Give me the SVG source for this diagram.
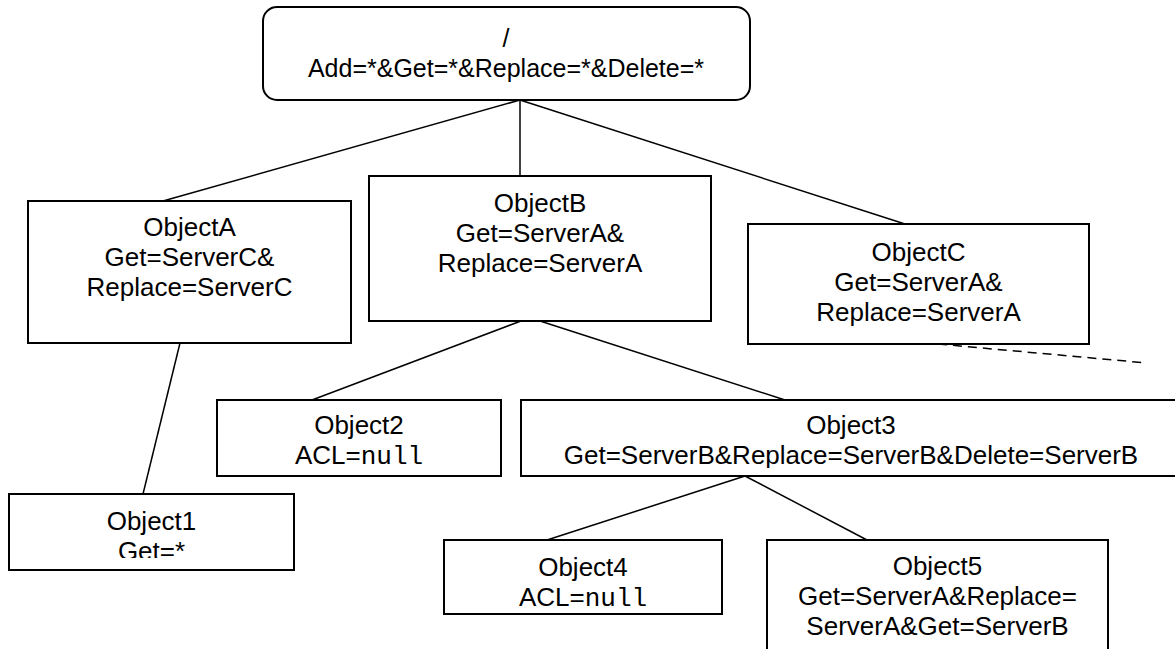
<svg xmlns="http://www.w3.org/2000/svg" width="1175" height="649" viewBox="0 0 1175 649">
<style>
.box{fill:#fff;stroke:#000;stroke-width:2}
.t{font-family:"Liberation Sans",Arial,sans-serif;font-size:26px;fill:#000;text-anchor:middle}
.r{font-size:25px}
.m{font-family:"Liberation Mono","Courier New",monospace}
.c{stroke:#000;stroke-width:1.5;fill:none}
.d{stroke-dasharray:9 6}
</style>
<defs>
<clipPath id="clip1"><rect x="9" y="494" width="285" height="64"/></clipPath>
<clipPath id="clip3"><rect x="521" y="400" width="660" height="68"/></clipPath>
</defs>
<g id="connectors">
<line class="c" x1="520" y1="100" x2="163" y2="201"/>
<line class="c" x1="520" y1="100" x2="520" y2="176"/>
<line class="c" x1="520" y1="100" x2="905" y2="224"/>
<line class="c" x1="180" y1="343" x2="143" y2="494"/>
<line class="c" x1="521" y1="321" x2="312" y2="400"/>
<line class="c" x1="540" y1="321" x2="785" y2="400"/>
<line class="c d" x1="938" y1="344" x2="1147" y2="363"/>
<line class="c" x1="745" y1="476" x2="547" y2="540"/>
<line class="c" x1="745" y1="476" x2="867" y2="540"/>
</g>
<g id="root">
<rect class="box" x="263" y="7" width="487" height="93" rx="14"/>
<text class="t r" x="506" y="47">/</text>
<text class="t r" x="506" y="77">Add=*&amp;Get=*&amp;Replace=*&amp;Delete=*</text>
</g>
<g id="objectA">
<rect class="box" x="28" y="201" width="323" height="142"/>
<text class="t" x="189.5" y="236">ObjectA</text>
<text class="t" x="189.5" y="266">Get=ServerC&amp;</text>
<text class="t" x="189.5" y="296">Replace=ServerC</text>
</g>
<g id="objectB">
<rect class="box" x="369" y="176" width="342" height="145"/>
<text class="t" x="540" y="212">ObjectB</text>
<text class="t" x="540" y="242">Get=ServerA&amp;</text>
<text class="t" x="540" y="272">Replace=ServerA</text>
</g>
<g id="objectC">
<rect class="box" x="748" y="224" width="341" height="120"/>
<text class="t" x="918.5" y="261">ObjectC</text>
<text class="t" x="918.5" y="291">Get=ServerA&amp;</text>
<text class="t" x="918.5" y="321">Replace=ServerA</text>
</g>
<g id="object1">
<rect class="box" x="9" y="494" width="285" height="76"/>
<g clip-path="url(#clip1)">
<text class="t" x="151.5" y="530">Object1</text>
<text class="t" x="151.5" y="560">Get=*</text>
</g>
</g>
<g id="object2">
<rect class="box" x="217" y="400" width="284" height="76"/>
<text class="t" x="359" y="434">Object2</text>
<text class="t" x="359" y="464">ACL=<tspan class="m">null</tspan></text>
</g>
<g id="object3">
<rect class="box" x="521" y="400" width="660" height="76"/>
<g clip-path="url(#clip3)">
<text class="t" x="851" y="434">Object3</text>
<text class="t" x="851" y="464">Get=ServerB&amp;Replace=ServerB&amp;Delete=ServerB</text>
</g>
</g>
<g id="object4">
<rect class="box" x="444" y="540" width="278" height="74"/>
<text class="t" x="583" y="576">Object4</text>
<text class="t" x="583" y="606">ACL=<tspan class="m">null</tspan></text>
</g>
<g id="object5">
<rect class="box" x="767" y="540" width="341" height="120"/>
<text class="t" x="937.5" y="575">Object5</text>
<text class="t" x="937.5" y="605">Get=ServerA&amp;Replace=</text>
<text class="t" x="937.5" y="635">ServerA&amp;Get=ServerB</text>
</g>
</svg>
